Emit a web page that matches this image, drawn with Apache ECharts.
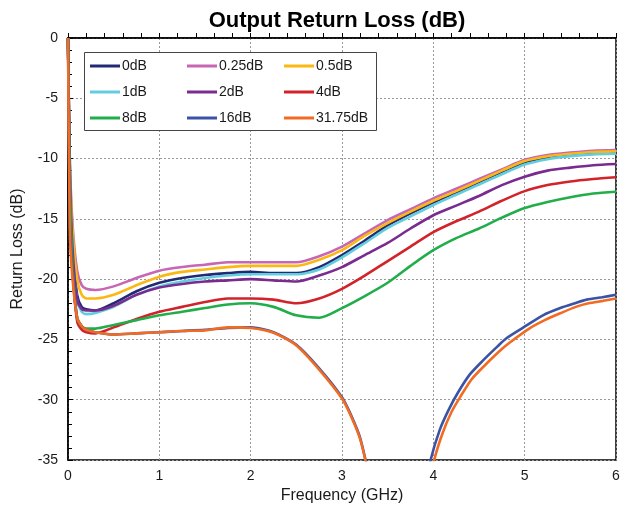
<!DOCTYPE html>
<html>
<head>
<meta charset="utf-8">
<title>Output Return Loss</title>
<script src="https://cdn.jsdelivr.net/npm/echarts@6/dist/echarts.min.js"></script>
<style>
  html, body { margin: 0; padding: 0; background: #fff; }
  #chart { width: 631px; height: 510px; }
</style>
</head>
<body>
<div id="chart"></div>
<script>
// frequency points (GHz) shared by the upper curves
const freq = [0, 0.02, 0.05, 0.1, 0.15, 0.2, 0.3, 0.5, 0.75, 1, 1.25, 1.5, 1.75, 2, 2.25, 2.5, 2.75, 3, 3.25, 3.5, 3.75, 4, 4.25, 4.5, 4.75, 5, 5.25, 5.5, 5.75, 6];

const rl0dB    = [0, -11, -17, -21.3, -22.3, -22.5, -22.6, -22.0, -21.0, -20.3, -19.9, -19.65, -19.5, -19.4, -19.5, -19.5, -19.0, -18.0, -16.8, -15.55, -14.55, -13.65, -12.8, -11.95, -11.1, -10.3, -9.9, -9.7, -9.55, -9.5];
const rl025dB  = [0, -10, -15.5, -19.3, -20.5, -20.8, -20.9, -20.6, -19.9, -19.3, -19.0, -18.8, -18.6, -18.6, -18.6, -18.6, -18.1, -17.3, -16.2, -15.1, -14.2, -13.3, -12.5, -11.7, -10.9, -10.1, -9.7, -9.5, -9.35, -9.3];
const rl05dB   = [0, -10.5, -16, -20, -21.3, -21.6, -21.6, -21.3, -20.5, -19.8, -19.4, -19.2, -19.0, -18.9, -18.9, -18.9, -18.4, -17.6, -16.4, -15.35, -14.4, -13.5, -12.7, -11.85, -11.0, -10.2, -9.8, -9.6, -9.45, -9.4];
const rl1dB    = [0, -11, -17.5, -21.8, -22.7, -22.9, -22.8, -22.3, -21.3, -20.6, -20.2, -19.9, -19.7, -19.6, -19.6, -19.6, -19.2, -18.2, -17.0, -15.75, -14.8, -13.85, -13.0, -12.15, -11.3, -10.5, -10.05, -9.8, -9.65, -9.6];
const rl2dB    = [0, -11, -17.5, -21.7, -22.5, -22.6, -22.6, -22.2, -21.3, -20.7, -20.4, -20.2, -20.1, -20.0, -20.1, -20.2, -19.7, -19.0, -18.0, -17.0, -15.8, -14.7, -13.9, -13.1, -12.2, -11.5, -11.0, -10.75, -10.55, -10.45];
const rl4dB    = [0, -12, -19, -23.5, -24.2, -24.4, -24.5, -24.0, -23.3, -22.7, -22.3, -21.9, -21.6, -21.6, -21.7, -22.0, -21.6, -20.8, -19.7, -18.5, -17.3, -16.1, -15.2, -14.4, -13.5, -12.7, -12.2, -11.9, -11.7, -11.55];
const rl8dB    = [0, -12, -19, -23.2, -23.9, -24.1, -24.1, -23.8, -23.4, -23.0, -22.7, -22.4, -22.1, -22.0, -22.3, -23.0, -23.2, -22.4, -21.4, -20.3, -18.9, -17.6, -16.6, -15.8, -14.9, -14.1, -13.6, -13.2, -12.9, -12.75];

// 16dB / 31.75dB: low band goes below the plot, then comes back up
const freqLow  = [0, 0.02, 0.05, 0.1, 0.15, 0.2, 0.3, 0.5, 0.75, 1, 1.25, 1.5, 1.75, 2, 2.25, 2.5, 2.75, 3, 3.1, 3.2, 3.3];
const rl16Low  = [0, -15, -19.5, -23.2, -23.9, -24.2, -24.4, -24.6, -24.5, -24.4, -24.3, -24.2, -24.05, -24.0, -24.4, -25.45, -27.4, -29.8, -31.3, -33.2, -36.5];
const rl3175Low = [0, -16, -20, -23.2, -23.9, -24.2, -24.4, -24.6, -24.5, -24.4, -24.3, -24.25, -24.0, -24.05, -24.45, -25.5, -27.5, -29.9, -31.4, -33.3, -36.5];

const freqHi16   = [3.94, 3.97, 4.07, 4.17, 4.27, 4.4, 4.55, 4.7, 4.8, 5.03, 5.2, 5.39, 5.55, 5.68, 5.85, 6];
const rl16Hi     = [-36.5, -35, -32.5, -30.8, -29.4, -27.9, -26.7, -25.6, -24.9, -23.8, -23.0, -22.4, -22.0, -21.7, -21.5, -21.3];
const freqHi3175 = [3.98, 4.01, 4.1, 4.2, 4.3, 4.42, 4.57, 4.72, 4.83, 5.05, 5.22, 5.4, 5.56, 5.7, 5.86, 6];
const rl3175Hi   = [-36.5, -35, -32.8, -31.0, -29.7, -28.3, -27.1, -26.0, -25.3, -24.1, -23.4, -22.8, -22.3, -22.0, -21.8, -21.6];

const names  = ['0dB', '0.25dB', '0.5dB', '1dB', '2dB', '4dB', '8dB', '16dB', '31.75dB'];
const colors = ['#232a73', '#c666b5', '#fbb813', '#63cde0', '#7a2b8f', '#d2232a', '#22ad4b', '#3a53a5', '#f26b23'];

const yTicks = [0, -5, -10, -15, -20, -25, -30, -35];
const xTicks = [0, 1, 2, 3, 4, 5, 6];

function pairs (xs, ys) {
  return xs.map((x, i) => [x, ys[i]]);
}

const upper = [rl0dB, rl025dB, rl05dB, rl1dB, rl2dB, rl4dB, rl8dB];
const lowData = {
  '16dB': pairs(freqLow, rl16Low).concat([[3.6, '-']], pairs(freqHi16, rl16Hi)),
  '31.75dB': pairs(freqLow, rl3175Low).concat([[3.6, '-']], pairs(freqHi3175, rl3175Hi))
};

const series = names.map((name, i) => ({
  name: name,
  type: 'line',
  symbol: 'none',
  smooth: 0.25,
  connectNulls: false,
  clip: true,
  data: i < upper.length ? pairs(freq, upper[i]) : lowData[name],
  lineStyle: { color: colors[i], width: 2.6 },
  itemStyle: { color: colors[i] },
  z: 2 + i
}));

const font = 'Arial, "Liberation Sans", sans-serif';
const legendCols = [
  ['0dB', '1dB', '8dB'],
  ['0.25dB', '2dB', '16dB'],
  ['0.5dB', '4dB', '31.75dB']
];
const legends = legendCols.map((col, i) => ({
  data: col.map(n => ({ name: n, icon: 'rect' })),
  orient: 'vertical',
  left: 90 + i * 97,
  top: 58,
  itemWidth: 30,
  itemHeight: 3,
  itemGap: 10,
  padding: 0,
  selectedMode: false,
  z: 6,
  textStyle: { fontFamily: font, fontSize: 14, color: '#1a1a1a', padding: [0, 0, 0, -3], lineHeight: 16 }
}));

const chart = echarts.init(document.getElementById('chart'));
chart.setOption({
  animation: false,
  backgroundColor: '#fff',
  title: {
    text: 'Output Return Loss (dB)',
    left: 332,
    textAlign: 'center',
    top: 5,
    textStyle: { fontFamily: font, fontSize: 22, fontWeight: 'bold', color: '#000' }
  },
  legend: legends,
  graphic: [{
    type: 'rect',
    left: 84,
    top: 52,
    z: 5,
    shape: { width: 292, height: 78 },
    style: { fill: '#fff', stroke: '#444', lineWidth: 1 }
  }],
  grid: {
    left: 68, right: 15, top: 38, bottom: 50,
    show: true, borderColor: '#000', borderWidth: 1.5
  },
  xAxis: {
    type: 'value',
    min: 0, max: 6, interval: 1,
    name: 'Frequency (GHz)',
    nameLocation: 'middle',
    nameGap: 28,
    nameTextStyle: { fontFamily: font, fontSize: 16, color: '#1a1a1a' },
    axisLine: { lineStyle: { color: '#000', width: 1.5 } },
    axisTick: { inside: true, length: 5, lineStyle: { color: '#000' } },
    minorTick: { show: true, splitNumber: 5, length: 5, lineStyle: { color: '#000' } },
    axisLabel: {
      fontFamily: font, fontSize: 14, color: '#1a1a1a', margin: 9,
      formatter: v => xTicks.indexOf(v) >= 0 ? String(v) : ''
    },
    splitLine: { show: true, lineStyle: { color: '#999', type: [2, 2], width: 1 } }
  },
  yAxis: {
    type: 'value',
    min: -35, max: 0, interval: 5,
    name: 'Return Loss (dB)',
    nameLocation: 'middle',
    nameGap: 42,
    nameTextStyle: { fontFamily: font, fontSize: 16, color: '#1a1a1a' },
    axisLine: { show: true, lineStyle: { color: '#000', width: 1.5 } },
    axisTick: { show: true, inside: true, length: 5, lineStyle: { color: '#000' } },
    minorTick: { show: true, splitNumber: 5, length: 4, lineStyle: { color: '#000' } },
    axisLabel: {
      fontFamily: font, fontSize: 14, color: '#1a1a1a', margin: 10,
      formatter: v => yTicks.indexOf(v) >= 0 ? String(v) : ''
    },
    splitLine: { show: true, lineStyle: { color: '#999', type: [2, 2], width: 1 } }
  },
  series: series
});
</script>
</body>
</html>
